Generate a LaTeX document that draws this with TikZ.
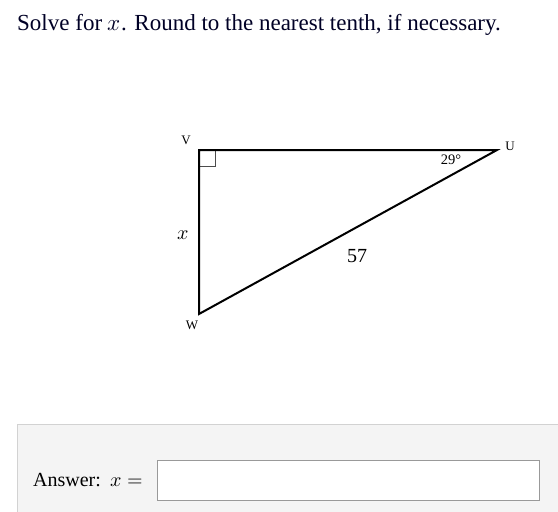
\documentclass[tikz,border=0pt]{standalone}
\usepackage{fontspec}
\setmainfont{Liberation Serif}
\usepackage{unicode-math}
\begin{document}
\begin{tikzpicture}[x=1pt,y=-1pt,
  lbl/.style={inner sep=0pt, text=black},
  vlbl/.style={lbl, font=\fontsize{13}{14}\selectfont},
  edge/.style={line width=2pt, line join=miter}]
\useasboundingbox (0,0) rectangle (558,512);
\fill[white] (0,0) rectangle (558,512);
% title
\node[lbl, anchor=base west, font=\fontsize{23}{25}\selectfont, text=black!85!blue] (title) at (17,30)
  {Solve for $x$. Round to the nearest tenth, if necessary.};
% triangle
\coordinate (V) at (199,150);
\coordinate (U) at (497,150);
\coordinate (W) at (199,314);
\draw[black!70, line width=1pt] (199,166) -- (215,166) -- (215,150);
\draw[edge] (V) -- (U) -- (W) -- cycle;
\node[vlbl] (lV) at (186,140) {V};
\node[vlbl] (lU) at (510,146) {U};
\node[vlbl] (lW) at (192,325) {W};
\node[lbl, font=\fontsize{20}{22}\selectfont] (lx) at (183,235) {$x$};
\node[lbl, font=\fontsize{20}{22}\selectfont] (l57) at (357,256) {57};
\node[lbl, font=\fontsize{14.5}{16}\selectfont] (l29) at (451,160) {29°};
% answer panel
\draw[fill=gray!9, draw=gray!35] (17,424) rectangle (560,514);
\node[lbl, anchor=base west, font=\fontsize{20}{22}\selectfont] (ans) at (33,486) {Answer:\ \ $x=$};
\draw[fill=white, draw=gray!80, line width=0.8pt] (157,460) rectangle (539,500);
\end{tikzpicture}
\end{document}
